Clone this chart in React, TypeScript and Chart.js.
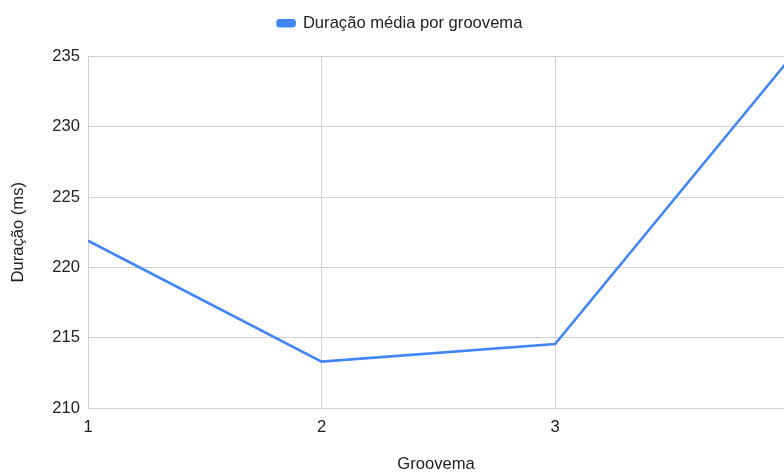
import React, { useEffect, useRef } from "react";
import { Chart, registerables } from "chart.js";

Chart.register(...registerables);

// Average duration (ms) per groovema
const groovemas = [1, 2, 3, 4];
const duracaoMedia = [221.9, 213.3, 214.55, 234.75];
const yTicks = [210, 215, 220, 225, 230, 235];

const FONT = "'Liberation Sans', Arial, Helvetica, sans-serif";
const FS = 16.6;
const TEXT = "#222222";
const GRID = "#d0d0d0";
const BLUE = "#4285F4";

// Adds extra room below the legend and nudges it to the right
const legendSpacer = {
  id: "legendSpacer",
  beforeInit(chart: any) {
    const legend = chart.legend;
    if (!legend) return;
    const fit = legend.fit;
    legend.fit = function () {
      fit.call(this);
      this.height += 15;
    };
  },
  afterLayout(chart: any) {
    const legend = chart.legend;
    if (!legend) return;
    legend.left += 8;
    legend.right += 8;
  },
};

export default function App() {
  const ref = useRef<HTMLCanvasElement | null>(null);

  useEffect(() => {
    if (!ref.current) return;
    const chart = new Chart(ref.current, {
      type: "line",
      data: {
        datasets: [
          {
            label: "Duração média por groovema",
            data: groovemas.map((g, i) => ({ x: g, y: duracaoMedia[i] })),
            borderColor: BLUE,
            backgroundColor: BLUE,
            borderWidth: 2.6,
            pointRadius: 0,
            pointHoverRadius: 0,
            tension: 0,
          },
        ],
      },
      plugins: [legendSpacer],
      options: {
        animation: false,
        responsive: false,
        maintainAspectRatio: false,
        layout: { padding: { left: 0, right: 0, top: 0, bottom: 0 } },
        plugins: {
          legend: {
            position: "top",
            labels: {
              font: { family: FONT, size: FS },
              color: TEXT,
              boxWidth: 17,
              boxHeight: 6,
              padding: 15,
              useBorderRadius: true,
              borderRadius: 2,
            },
          },
          tooltip: { enabled: false },
        },
        scales: {
          x: {
            type: "linear",
            min: groovemas[0],
            max: 3.98,
            afterFit: (s: any) => {
              s.height = 66;
            },
            afterBuildTicks: (s: any) => {
              s.ticks = groovemas.slice(0, 3).map((v) => ({ value: v }));
            },
            ticks: {
              stepSize: 1,
              includeBounds: false,
              padding: 9,
              color: TEXT,
              font: { family: FONT, size: FS },
              callback: (v: any) => String(v),
            },
            grid: { color: GRID, lineWidth: 1, drawTicks: false },
            border: { display: false },
            title: {
              display: true,
              text: "Groovema",
              color: TEXT,
              font: { family: FONT, size: FS },
              padding: { top: 22, bottom: 0 },
            },
          },
          y: {
            min: yTicks[0],
            max: yTicks[yTicks.length - 1],
            afterFit: (s: any) => {
              s.width = 88;
            },
            afterBuildTicks: (s: any) => {
              s.ticks = yTicks.map((v) => ({ value: v }));
            },
            ticks: {
              padding: 8,
              color: TEXT,
              font: { family: FONT, size: FS },
            },
            grid: { color: GRID, lineWidth: 1, drawTicks: false },
            border: { display: false },
            title: {
              display: true,
              text: "Duração (ms)",
              color: TEXT,
              font: { family: FONT, size: FS },
              padding: { top: 8, bottom: 0 },
            },
          },
        },
      },
    });
    return () => chart.destroy();
  }, []);

  return (
    <div
      style={{
        position: "fixed",
        left: 0,
        top: 0,
        width: 784,
        height: 474,
        overflow: "hidden",
        background: "#ffffff",
      }}
    >
      <canvas ref={ref} width={784} height={474} style={{ display: "block" }} />
    </div>
  );
}
